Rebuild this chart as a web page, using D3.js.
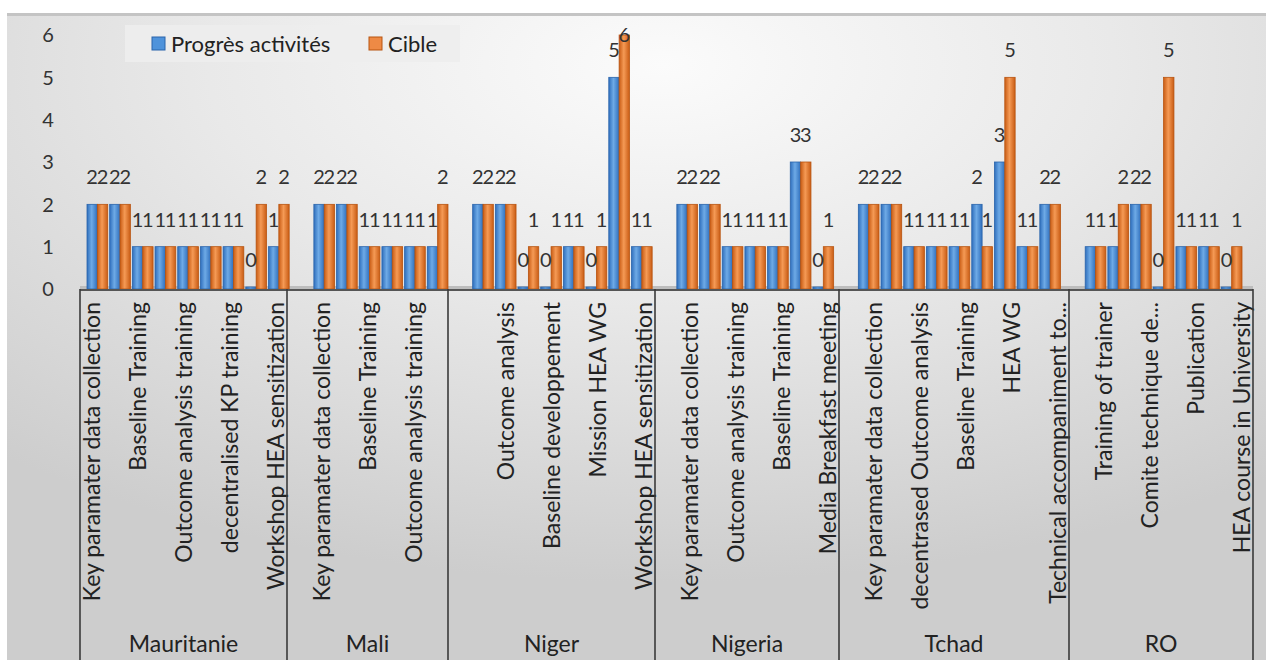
<!DOCTYPE html>
<html>
<head>
<meta charset="utf-8">
<script src="https://cdn.jsdelivr.net/npm/d3@7/dist/d3.min.js"></script>
<style>
  html, body { margin: 0; padding: 0; background: #fff; }
  svg { display: block; font-family: Lato, "Open Sans", sans-serif; }
</style>
</head>
<body>
<div id="chart"></div>
<script>
/* data */
var countries = ["Mauritanie", "Mali", "Niger", "Nigeria", "Tchad", "RO"];
var countrySizes = [9, 7, 9, 8, 10, 8];

// one entry per category; "" where the axis skips the label
var activities = [
  "Key paramater data collection", "", "Baseline Training", "", "Outcome analysis training", "", "decentralised KP training", "", "Workshop HEA sensitization",
  "", "Key paramater data collection", "", "Baseline Training", "", "Outcome analysis training", "",
  "", "", "Outcome analysis", "", "Baseline developpement", "", "Mission HEA WG", "", "Workshop HEA sensitization",
  "", "Key paramater data collection", "", "Outcome analysis training", "", "Baseline Training", "", "Media Breakfast meeting",
  "", "Key paramater data collection", "", "decentrased Outcome analysis", "", "Baseline Training", "", "HEA WG", "", "Technical accompaniment to...",
  "", "Training of trainer", "", "Comite technique de...", "", "Publication", "", "HEA course in University"
];

var progres = [
  2, 2, 1, 1, 1, 1, 1, 0, 1,
  null, 2, 2, 1, 1, 1, 1,
  null, 2, 2, 0, 0, 1, 0, 5, 1,
  null, 2, 2, 1, 1, 1, 3, 0,
  null, 2, 2, 1, 1, 1, 2, 3, 1, 2,
  null, 1, 1, 2, 0, 1, 1, 0
];
var cible = [
  2, 2, 1, 1, 1, 1, 1, 2, 2,
  null, 2, 2, 1, 1, 1, 2,
  null, 2, 2, 1, 1, 1, 1, 6, 1,
  null, 2, 2, 1, 1, 1, 3, 1,
  null, 2, 2, 1, 1, 1, 1, 5, 1, 2,
  null, 1, 2, 2, 5, 1, 1, 1
];
var seriesNames = ["Progrès activités", "Cible"];
var yTicks = [0, 1, 2, 3, 4, 5, 6];

/* layout */
var width = 1266, height = 660;
var plotLeft = 80, plotRight = 1253, baseY = 289, topY = 35;

var svg = d3.select("#chart").append("svg")
  .attr("width", width).attr("height", height);

var defs = svg.append("defs");
var bg = defs.append("radialGradient").attr("id", "bg")
  .attr("cx", "52%").attr("cy", "8%").attr("r", "80%");
bg.append("stop").attr("offset", "0").attr("stop-color", "#fbfbfb");
bg.append("stop").attr("offset", "0.45").attr("stop-color", "#e9e9e9");
bg.append("stop").attr("offset", "1").attr("stop-color", "#cdcdcd");

function barGradient(id, edge, mid) {
  var g = defs.append("linearGradient").attr("id", id)
    .attr("x1", "0").attr("x2", "1").attr("y1", "0").attr("y2", "0");
  g.append("stop").attr("offset", "0").attr("stop-color", edge);
  g.append("stop").attr("offset", "0.45").attr("stop-color", mid);
  g.append("stop").attr("offset", "1").attr("stop-color", edge);
}
barGradient("gBlue", "#2f6fbd", "#6eaae6");
barGradient("gOrange", "#c95c14", "#f59a55");
var fills = ["url(#gBlue)", "url(#gOrange)"];
var strokes = ["#2a64ab", "#b85410"];
var legendFills = ["#4f93db", "#ee8a45"];

// chart background
svg.append("rect").attr("x", 7).attr("y", 13).attr("width", width - 7).attr("height", height - 13)
  .attr("fill", "url(#bg)");
svg.append("rect").attr("x", 7).attr("y", 13).attr("width", width - 7).attr("height", 3)
  .attr("fill", "#c4c4c4");

/* scales */
var idx = d3.range(activities.length);
var x = d3.scaleBand().domain(idx).range([plotLeft, plotRight]).padding(0);
// bars sit on a slightly narrower 3D floor than the axis
var xBar = d3.scaleBand().domain(idx).range([86, 1243]).padding(0);
var xs = d3.scaleBand().domain([0, 1]).range([1, xBar.bandwidth() - 1]).padding(0);
var y = d3.scaleLinear().domain([0, 6]).range([baseY, topY]);

// y tick labels
svg.append("g").selectAll("text").data(yTicks).enter().append("text")
  .attr("x", 48).attr("y", function(d) { return y(d); })
  .attr("dy", "0.36em").attr("text-anchor", "middle")
  .attr("font-size", 20).attr("fill", "#333")
  .text(function(d) { return d; });

// floor
svg.append("rect").attr("x", plotLeft).attr("y", baseY - 3).attr("width", plotRight - plotLeft).attr("height", 3)
  .attr("fill", "#bdbdbd");

/* bars */
var series = [progres, cible];
var points = [];
series.forEach(function(vals, s) {
  vals.forEach(function(v, i) {
    if (v !== null) points.push({ s: s, i: i, v: v });
  });
});

var bars = svg.append("g").attr("class", "bars");
bars.selectAll("rect").data(points).enter().append("rect")
  .attr("x", function(d) { return xBar(d.i) + xs(d.s); })
  .attr("width", xs.bandwidth())
  .attr("y", function(d) { return d.v === 0 ? baseY - 2 : y(d.v); })
  .attr("height", function(d) { return d.v === 0 ? 2 : baseY - y(d.v); })
  .attr("fill", function(d) { return fills[d.s]; })
  .attr("stroke", function(d) { return strokes[d.s]; })
  .attr("stroke-width", 0.8);

// data labels (kept inside the plot at the top)
svg.append("g").selectAll("text").data(points).enter().append("text")
  .attr("x", function(d) { return xBar(d.i) + xs(d.s) + xs.bandwidth() / 2; })
  .attr("y", function(d) { return Math.max(42, y(d.v) - (d.v === 0 ? 22 : 20)); })
  .attr("text-anchor", "middle")
  .attr("font-size", 20).attr("fill", "#333")
  .text(function(d) { return d.v; });

// axis line
svg.append("line").attr("x1", plotLeft).attr("x2", plotRight)
  .attr("y1", baseY + 1).attr("y2", baseY + 1)
  .attr("stroke", "#555").attr("stroke-width", 2);

/* category labels */
svg.append("g").selectAll("text").data(idx.filter(function(i) { return activities[i] !== ""; }))
  .enter().append("text")
  .attr("transform", function(i) { return "translate(" + (x(i) + x.bandwidth() / 2) + "," + (baseY + 13) + ") rotate(-90)"; })
  .attr("dy", "0.36em").attr("text-anchor", "end")
  .attr("font-size", 23).attr("fill", "#222")
  .text(function(i) { return activities[i]; });

/* group dividers and labels */
var bounds = [0];
countrySizes.forEach(function(n, k) { bounds.push(bounds[k] + n); });
function edgeX(b) { return b < activities.length ? x(b) : plotRight; }

svg.append("g").selectAll("line").data(bounds).enter().append("line")
  .attr("x1", function(b) { return edgeX(b); }).attr("x2", function(b) { return edgeX(b); })
  .attr("y1", baseY).attr("y2", height)
  .attr("stroke", "#3a3a3a").attr("stroke-width", 1.6);

svg.append("g").selectAll("text").data(countries).enter().append("text")
  .attr("x", function(c, k) { return (edgeX(bounds[k]) + edgeX(bounds[k + 1])) / 2; })
  .attr("y", 652).attr("text-anchor", "middle")
  .attr("font-size", 23).attr("fill", "#222")
  .text(function(c) { return c; });

/* legend */
var legend = svg.append("g");
legend.append("rect").attr("x", 125).attr("y", 25).attr("width", 335).attr("height", 37)
  .attr("fill", "#ededed").attr("opacity", 0.9);
var legendX = [152, 369];
seriesNames.forEach(function(name, s) {
  legend.append("rect").attr("x", legendX[s]).attr("y", 37).attr("width", 13).attr("height", 13)
    .attr("fill", legendFills[s]).attr("stroke", strokes[s]).attr("stroke-width", 1);
  legend.append("text").attr("x", legendX[s] + 19).attr("y", 52)
    .attr("font-size", 22).attr("fill", "#222").text(name);
});
</script>
</body>
</html>
